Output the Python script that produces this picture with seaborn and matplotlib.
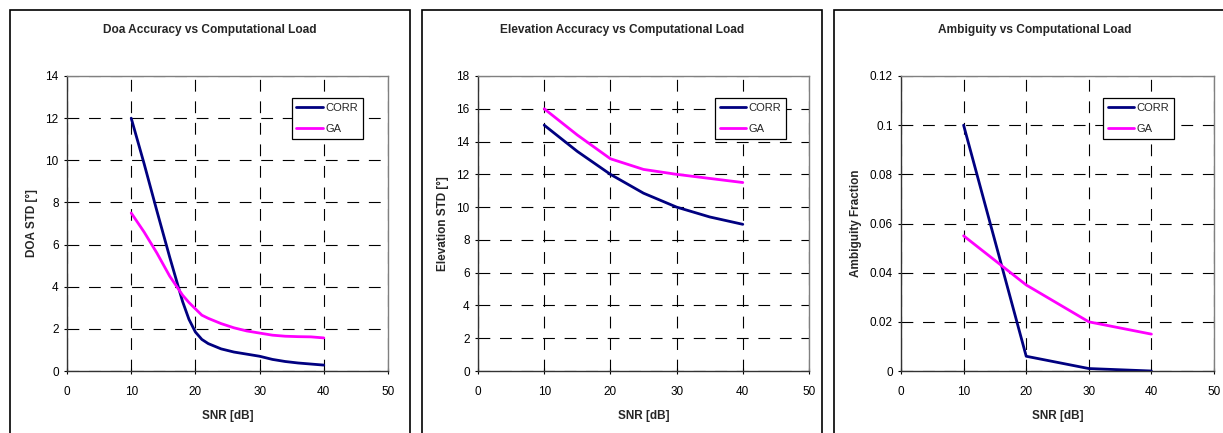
import numpy as np
import pandas as pd
import matplotlib
matplotlib.use("Agg")
import matplotlib.pyplot as plt
import seaborn as sns
from matplotlib.patches import Rectangle
from matplotlib.ticker import FuncFormatter

sns.set_theme(style="white")
plt.rcParams['font.family'] = ['Liberation Sans', 'DejaVu Sans']
plt.rcParams['lines.scale_dashes'] = False

# Data
SERIES = ['CORR', 'GA']
COLORS = {'CORR': '#000080', 'GA': '#FF00FF'}

doa_snr = [10, 12, 14, 16, 18, 19, 20, 21, 22, 24, 26, 28, 30, 32, 34, 36, 38, 40]
doa_corr = [12.0, 9.85, 7.6, 5.4, 3.3, 2.45, 1.85, 1.5, 1.3, 1.05, 0.9, 0.8, 0.7, 0.55, 0.45, 0.38, 0.33, 0.28]
doa_ga = [7.5, 6.6, 5.6, 4.5, 3.6, 3.25, 2.95, 2.65, 2.5, 2.25, 2.05, 1.9, 1.8, 1.7, 1.65, 1.63, 1.62, 1.57]

elev_snr = [10, 15, 20, 25, 30, 35, 40]
elev_corr = [15.0, 13.4, 12.0, 10.85, 10.0, 9.4, 8.95]
elev_ga = [16.0, 14.4, 12.95, 12.3, 12.0, 11.75, 11.5]

amb_snr = [10, 20, 30, 40]
amb_corr = [0.1, 0.006, 0.001, 0.0]
amb_ga = [0.055, 0.035, 0.02, 0.015]

TITLES = ['Doa Accuracy vs Computational Load',
          'Elevation Accuracy vs Computational Load',
          'Ambiguity vs Computational Load']
YLABELS = ['DOA STD [°]', 'Elevation STD [°]', 'Ambiguity Fraction']
YLIMS = [(0, 14), (0, 18), (0, 0.12)]
YSTEPS = [2, 2, 0.02]

W, H = 1223, 433
fig = plt.figure(figsize=(W / 100, H / 100), dpi=100)

# panel frames (pixels) and axes boxes (pixels)
frames = [(10, 410), (422, 822), (834, 1236)]
axes_px = [(67, 388), (478, 809), (901, 1214)]
legend_x = [0.70, 0.716, 0.645]
ax_top, ax_bot = 76, 371

panels = [
    (doa_snr, doa_corr, doa_ga),
    (elev_snr, elev_corr, elev_ga),
    (amb_snr, amb_corr, amb_ga),
]

for i, (snr, corr, ga) in enumerate(panels):
    fl, fr = frames[i]
    fig.patches.append(Rectangle((fl / W, -0.1), (fr - fl) / W, (H - 10) / H + 0.1,
                                 transform=fig.transFigure, fill=False,
                                 edgecolor='black', linewidth=1.2))
    fig.text((fl + fr) / 2 / W, 1 - 30 / H, TITLES[i], ha='center', va='center',
             fontsize=8.6, fontweight='bold')

    l, r = axes_px[i]
    ax = fig.add_axes([l / W, (H - ax_bot) / H, (r - l) / W, (ax_bot - ax_top) / H])

    df = pd.DataFrame({
        'snr': list(snr) * 2,
        'value': list(corr) + list(ga),
        'series': ['CORR'] * len(snr) + ['GA'] * len(snr),
    })
    sns.lineplot(data=df, x='snr', y='value', hue='series', hue_order=SERIES,
                 palette=COLORS, linewidth=2, ax=ax, sort=False)

    ax.set_xlim(0, 50)
    ax.set_ylim(*YLIMS[i])
    ax.set_xticks(np.arange(0, 51, 10))
    ax.set_yticks(np.arange(0, YLIMS[i][1] + YSTEPS[i] / 2, YSTEPS[i]))
    ax.yaxis.set_major_formatter(FuncFormatter(lambda v, p: f'{round(v, 4):g}'))
    ax.grid(True, color='black', linestyle=(0, (8.5, 7)), linewidth=0.8)
    ax.set_axisbelow(True)

    for s in ['left', 'bottom']:
        ax.spines[s].set_color('#333333')
        ax.spines[s].set_linewidth(1.0)
    for s in ['top', 'right']:
        ax.spines[s].set_color('#808080')
        ax.spines[s].set_linewidth(1.0)

    ax.tick_params(axis='x', direction='inout', length=4, width=0.8, pad=8.5,
                   labelsize=8.5, colors='black', bottom=True)
    ax.tick_params(axis='y', direction='out', length=2.5, width=0.8, pad=3.5,
                   labelsize=8.5, colors='black', left=True)
    ax.set_xlabel('SNR [dB]', fontsize=8.5, fontweight='bold', labelpad=9)
    ax.set_ylabel(YLABELS[i], fontsize=8.5, fontweight='bold', labelpad=5.5)

    leg = ax.legend(loc='upper left', bbox_to_anchor=(legend_x[i], 0.925),
                    borderaxespad=0, frameon=True, fancybox=False, framealpha=1,
                    edgecolor='black', fontsize=8, handlelength=2.4,
                    handletextpad=0.2, borderpad=0.42, labelspacing=1.0)
    leg.get_frame().set_linewidth(0.9)
    leg.set_title(None)

fig.savefig('out.png', dpi=100)
